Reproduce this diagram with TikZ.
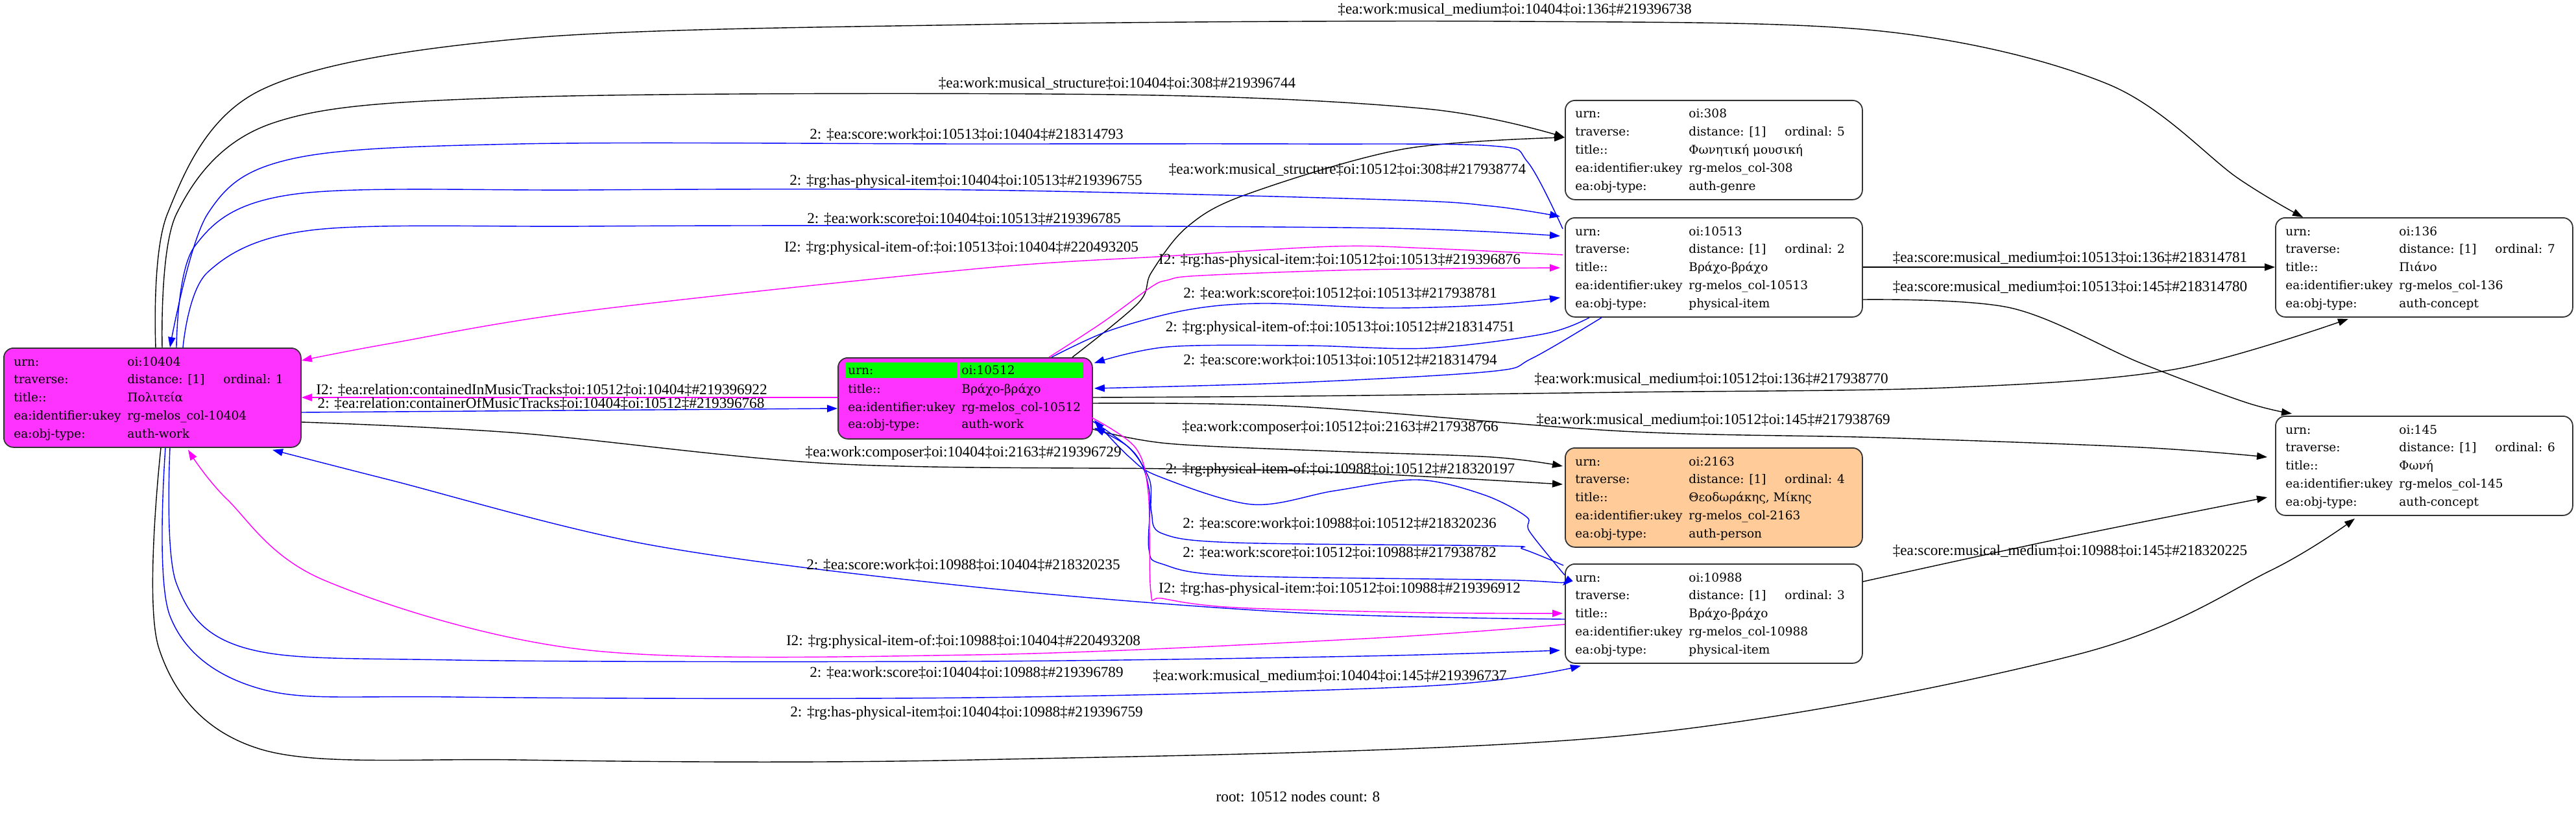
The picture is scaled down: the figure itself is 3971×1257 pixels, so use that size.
\documentclass[tikz,border=0pt]{standalone}
\usepackage{fontspec}
\setmainfont{DejaVu Serif}
\newfontfamily\lblfont{Liberation Serif}
\usetikzlibrary{calc,arrows.meta}
\definecolor{mag}{HTML}{FF33FF}
\definecolor{magline}{HTML}{FF00FF}
\definecolor{blueline}{HTML}{0000FF}
\definecolor{peach}{HTML}{FFCC99}
\definecolor{hl}{HTML}{00FF00}
\tikzset{
 box/.style={draw=black!80, line width=0.9pt, rounded corners=7.5pt, anchor=north west, inner sep=0pt, minimum width=229pt, minimum height=76.5pt},
 cell/.style={anchor=base west, inner sep=0pt, font=\fontsize{9.25}{11}\selectfont},
 elabel/.style={inner sep=0pt, font=\lblfont\fontsize{11.6}{13}\selectfont},
 conn/.style={line width=0.7pt, -{Triangle[length=8pt,width=5.6pt]}},
 bk/.style={conn, draw=black, fill=none},
 bl/.style={conn, draw=blueline},
 mg/.style={conn, draw=magline},
 sm/.style={smooth, tension=0.55},
}
\newcommand\recbox[9]{%
 \node[box, fill=#4] (#1) at (#2,#3) {};
 \node[cell] (#1ua) at ($(#1.north west)+(16,28)$) {urn:};
 \node[cell] (#1ub) at ($(#1.north west)+(191,28)$) {#5};
 \node[cell] (#1ta) at ($(#1.north west)+(16,55.75)$) {traverse:};
 \node[cell] (#1tb) at ($(#1.north west)+(191,55.75)$) {distance: [1]};
 \node[cell] (#1tc) at ($(#1.north west)+(339,55.75)$) {ordinal: #6};
 \node[cell] (#1ia) at ($(#1.north west)+(16,83.5)$) {title::};
 \node[cell] (#1ib) at ($(#1.north west)+(191,83.5)$) {#7};
 \node[cell] (#1ka) at ($(#1.north west)+(16,111.25)$) {ea:identifier:ukey};
 \node[cell] (#1kb) at ($(#1.north west)+(191,111.25)$) {#8};
 \node[cell] (#1oa) at ($(#1.north west)+(16,139)$) {ea:obj-type:};
 \node[cell] (#1ob) at ($(#1.north west)+(191,139)$) {#9};
}
\begin{document}
\begin{tikzpicture}[x=0.5pt,y=-0.5pt]
\useasboundingbox (0,0) rectangle (3971,1257);
% nodes
\recbox{A}{5}{536}{mag}{oi:10404}{1}{Πολιτεία}{rg-melos\_col-10404}{auth-work}
\node[box, fill=mag, minimum width=196pt, minimum height=62.5pt] (B) at (1291,551) {};
\fill[hl] ($(B.north west)+(13,8)$) rectangle ($(B.north west)+(185,32)$);
\fill[hl] ($(B.north west)+(188,8)$) rectangle ($(B.north west)+(378,32)$);
\node[cell] (Bua) at ($(B.north west)+(16,26)$) {urn:};
\node[cell] (Bub) at ($(B.north west)+(191,26)$) {oi:10512};
\node[cell] (Bia) at ($(B.north west)+(16,55)$) {title::};
\node[cell] (Bib) at ($(B.north west)+(191,55)$) {Βράχο-βράχο};
\node[cell] (Bka) at ($(B.north west)+(16,83)$) {ea:identifier:ukey};
\node[cell] (Bkb) at ($(B.north west)+(191,83)$) {rg-melos\_col-10512};
\node[cell] (Boa) at ($(B.north west)+(16,109)$) {ea:obj-type:};
\node[cell] (Bob) at ($(B.north west)+(191,109)$) {auth-work};
\recbox{C}{2412}{154}{white}{oi:308}{5}{Φωνητική μουσική}{rg-melos\_col-308}{auth-genre}
\recbox{D}{2412}{335}{white}{oi:10513}{2}{Βράχο-βράχο}{rg-melos\_col-10513}{physical-item}
\recbox{E}{2412}{690}{peach}{oi:2163}{4}{Θεοδωράκης, Μίκης}{rg-melos\_col-2163}{auth-person}
\recbox{F}{2412}{869}{white}{oi:10988}{3}{Βράχο-βράχο}{rg-melos\_col-10988}{physical-item}
\recbox{G}{3507}{335}{white}{oi:136}{7}{Πιάνο}{rg-melos\_col-136}{auth-concept}
\recbox{H}{3507}{641}{white}{oi:145}{6}{Φωνή}{rg-melos\_col-145}{auth-concept}
% edges
\draw[bk] plot[sm] coordinates {($(A.north west)+(235,0)$) (258,330) (400,140) (800,60) (1500,38) (2335,33) (2900,48) (3250,130) (3450,275) ($(G.north west)+(43,0)$)};
\draw[bk] plot[sm] coordinates {($(A.north west)+(245,0)$) (272,330) (420,190) (800,150) (1722,146) (2200,168) ($(C.north west)+(0,58)$)};
\draw[bk] plot[sm] coordinates {($(B.north west)+(362,0)$) (1755,467) (1775,420) (1830,350) (1921,300) (2163,230) ($(C.north west)+(0,58)$)};
\draw[bl] plot[sm] coordinates {($(D.north west)+(-3,18)$) (2355,250) (2300,225) (2000,222) (1500,222) (800,222) (450,245) (320,330) ($(A.north west)+(257,0)$)};
\draw[bl] plot[sm] coordinates {($(A.north west)+(267,0)$) (300,380) (450,300) (900,293) (1500,293) (2138,308) (2300,318) ($(D.north west)+(-7,-1)$)};
\draw[bl] plot[sm] coordinates {($(A.north west)+(277,0)$) (320,420) (480,355) (900,349) (1500,348) (2138,352) ($(D.north west)+(-7,29)$)};
\draw[mg] plot[sm] coordinates {($(D.north west)+(-3,58)$) (2200,383) (2055,380) (1800,395) (1500,415) (900,480) (600,530) ($(A.north east)+(0,20)$)};
\draw[mg] plot[sm] coordinates {($(B.north west)+(326,0)$) (1700,497) (1774,443) (1800,432) (1851,425) (2100,416) ($(D.north west)+(-7,78)$)};
\draw[bl] plot[sm] coordinates {($(B.north west)+(330,0)$) (1710,510) (1830,478) (1946,468) (2138,475) (2300,470) ($(D.north west)+(-7,124)$)};
\draw[bl] plot[sm] coordinates {($(D.south west)+(38,0)$) (2380,515) (2201,537) (2010,533) (1800,535) ($(B.north east)+(2,9)$)};
\draw[bl] plot[sm] coordinates {($(D.south west)+(57,0)$) (2361,553) (2297,573) (2000,590) ($(B.north east)+(2,48)$)};
\draw[bk] plot[sm] coordinates {($(B.north east)+(0,62)$) (2000,611) (2500,605) (3000,598) (3350,570) ($(G.south west)+(113,2)$)};
\draw[bk] plot[sm] coordinates {($(B.north east)+(0,71)$) (2000,627) (2500,665) (2900,675) (3300,690) ($(H.north west)+(-12,64)$)};
\draw[bk] plot[sm] coordinates {($(B.north east)+(0,111)$) (1800,684) (2057,696) (2300,705) ($(E.north west)+(-3,29)$)};
\draw[bk] plot[sm] coordinates {($(A.north east)+(0,115)$) (800,668) (1280,715) (1800,723) (2057,728) ($(E.north west)+(-3,57)$)};
\draw[bl] plot[sm] coordinates {($(F.north west)+(0,18)$) (2358,820) (2353,797) (2287,763) (2185,740) (2057,757) (1930,778) (1787,735) (1741,705) ($(B.north east)+(2,97)$)};
\draw[bl] plot[sm] coordinates {($(F.north west)+(-2,3)$) (2348,847) (2312,842) (1904,837) (1792,823) (1775,790) (1772,740) (1740,690) ($(B.north east)+(2,109)$)};
\draw[bl] plot[sm] coordinates {($(B.north east)+(0,99)$) (1750,700) (1772,760) (1771,847) (1792,870) (1904,888) (2338,895) ($(F.north west)+(-3,34)$)};
\draw[mg] plot[sm] coordinates {($(B.north east)+(-2,93)$) (1750,690) (1770,760) (1774,913) (1792,923) (1904,937) (2200,945) ($(F.north west)+(-3,77)$)};
\draw[bl] plot[sm] coordinates {($(F.north west)+(0,86)$) (2000,945) (1500,905) (1000,840) (600,740) ($(A.south west)+(415,3)$)};
\draw[mg] plot[sm] coordinates {($(F.north west)+(0,94)$) (2103,985) (1500,1010) (900,1002) (500,895) (350,770) ($(A.south west)+(285,3)$)};
\draw[bl] plot[sm] coordinates {($(A.south west)+(257,0)$) (272,900) (380,1000) (700,1018) (1500,1020) (2100,1012) ($(F.north west)+(-7,134)$)};
\draw[bl] plot[sm] coordinates {($(A.south west)+(250,0)$) (262,950) (400,1062) (700,1075) (1500,1076) (2200,1058) ($(F.south west)+(25,3)$)};
\draw[bk] plot[sm] coordinates {($(A.south west)+(243,0)$) (245,1000) (400,1155) (800,1172) (1500,1172) (2500,1135) (3200,1010) (3500,880) ($(H.south west)+(123,4)$)};
\draw[mg] ($(B.north west)+(0,62)$) -- ($(A.north east)+(0,77)$);
\draw[bl] ($(A.north east)+(0,100)$) -- ($(B.north west)+(0,79)$);
\draw[bk] ($(D.north east)+(0,77)$) -- ($(G.north west)+(0,77)$);
\draw[bk] plot[sm] coordinates {($(D.north east)+(0,127)$) (3100,475) (3300,560) (3460,620) ($(H.north west)+(26,-3)$)};
\draw[bk] plot[sm] coordinates {($(F.north east)+(0,28)$) (3180,830) ($(H.north west)+(-12,126)$)};
% labels
\node[elabel] (l1) at (2335,15) {‡ea:work:musical\_medium‡oi:10404‡oi:136‡\#219396738};
\node[elabel] (l2) at (1722,129) {‡ea:work:musical\_structure‡oi:10404‡oi:308‡\#219396744};
\node[elabel] (l3) at (2077,262) {‡ea:work:musical\_structure‡oi:10512‡oi:308‡\#217938774};
\node[elabel] (l4) at (1490,208) {2: ‡ea:score:work‡oi:10513‡oi:10404‡\#218314793};
\node[elabel] (l5) at (1489,280) {2: ‡rg:has-physical-item‡oi:10404‡oi:10513‡\#219396755};
\node[elabel] (l6) at (1486,338) {2: ‡ea:work:score‡oi:10404‡oi:10513‡\#219396785};
\node[elabel] (l7) at (1482,383) {I2: ‡rg:physical-item-of:‡oi:10513‡oi:10404‡\#220493205};
\node[elabel] (l8) at (2065,402) {I2: ‡rg:has-physical-item:‡oi:10512‡oi:10513‡\#219396876};
\node[elabel] (l9) at (2066,453) {2: ‡ea:work:score‡oi:10512‡oi:10513‡\#217938781};
\node[elabel] (l10) at (2066,506) {2: ‡rg:physical-item-of:‡oi:10513‡oi:10512‡\#218314751};
\node[elabel] (l11) at (2066,556) {2: ‡ea:score:work‡oi:10513‡oi:10512‡\#218314794};
\node[elabel] (l12) at (2638,585) {‡ea:work:musical\_medium‡oi:10512‡oi:136‡\#217938770};
\node[elabel] (l13) at (2641,648) {‡ea:work:musical\_medium‡oi:10512‡oi:145‡\#217938769};
\node[elabel] (l14) at (2066,660) {‡ea:work:composer‡oi:10512‡oi:2163‡\#217938766};
\node[elabel] (l15) at (1485,699) {‡ea:work:composer‡oi:10404‡oi:2163‡\#219396729};
\node[elabel] (l16) at (2066,725) {2: ‡rg:physical-item-of:‡oi:10988‡oi:10512‡\#218320197};
\node[elabel] (l17) at (2065,808) {2: ‡ea:score:work‡oi:10988‡oi:10512‡\#218320236};
\node[elabel] (l18) at (2065,853) {2: ‡ea:work:score‡oi:10512‡oi:10988‡\#217938782};
\node[elabel] (l19) at (2065,909) {I2: ‡rg:has-physical-item:‡oi:10512‡oi:10988‡\#219396912};
\node[elabel] (l20) at (1485,872) {2: ‡ea:score:work‡oi:10988‡oi:10404‡\#218320235};
\node[elabel] (l21) at (1485,990) {I2: ‡rg:physical-item-of:‡oi:10988‡oi:10404‡\#220493208};
\node[elabel] (l22) at (1490,1038) {2: ‡ea:work:score‡oi:10404‡oi:10988‡\#219396789};
\node[elabel] (l23) at (1490,1100) {2: ‡rg:has-physical-item‡oi:10404‡oi:10988‡\#219396759};
\node[elabel] (l24) at (2050,1043) {‡ea:work:musical\_medium‡oi:10404‡oi:145‡\#219396737};
\node[elabel] (l25) at (835,602) {I2: ‡ea:relation:containedInMusicTracks‡oi:10512‡oi:10404‡\#219396922};
\node[elabel] (l26) at (834,623) {2: ‡ea:relation:containerOfMusicTracks‡oi:10404‡oi:10512‡\#219396768};
\node[elabel] (l27) at (3191,398) {‡ea:score:musical\_medium‡oi:10513‡oi:136‡\#218314781};
\node[elabel] (l28) at (3191,443) {‡ea:score:musical\_medium‡oi:10513‡oi:145‡\#218314780};
\node[elabel] (l29) at (3191,850) {‡ea:score:musical\_medium‡oi:10988‡oi:145‡\#218320225};
\node[elabel] (cap) at (2001,1229) {root: 10512 nodes count: 8};
\end{tikzpicture}
\end{document}
